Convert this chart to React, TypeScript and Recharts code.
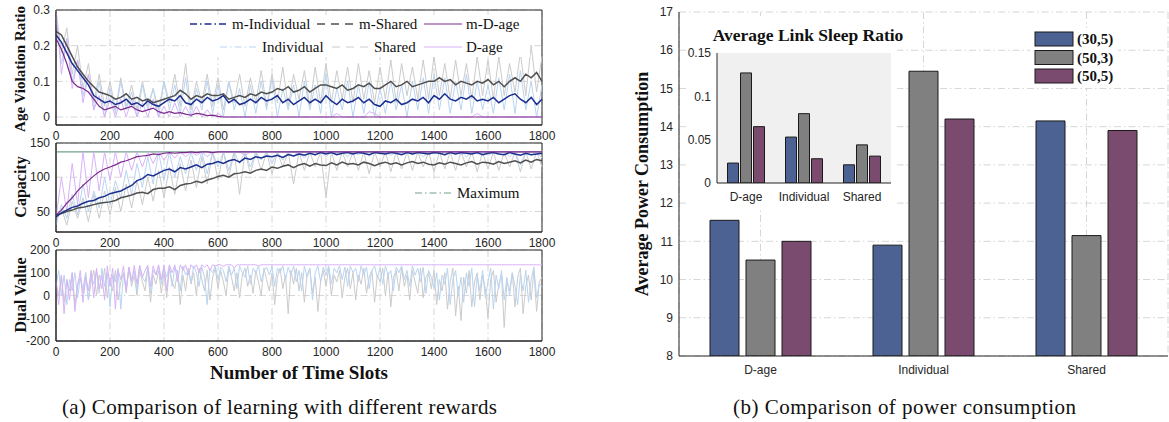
import {
  LineChart,
  Line,
  BarChart,
  Bar,
  XAxis,
  YAxis,
  CartesianGrid,
  ReferenceArea,
  ReferenceLine,
} from "recharts";

// time slots sampled every 20 slots (every 10 for the dual values)
const SLOTS = Array.from({ length: 91 }, (_, i) => i * 20);
const SLOTS10 = Array.from({ length: 181 }, (_, i) => i * 10);
const SLOT_TICKS = [0, 200, 400, 600, 800, 1000, 1200, 1400, 1600, 1800];

// ---- age violation ratio ----
const AVR_M_IND = [
  0.23, 0.21, 0.18, 0.15, 0.13, 0.11, 0.09, 0.06, 0.05, 0.04,
  0.045, 0.035, 0.04, 0.05, 0.035, 0.04, 0.03, 0.045, 0.035, 0.03,
  0.04, 0.05, 0.045, 0.06, 0.04, 0.035, 0.05, 0.04, 0.055, 0.045,
  0.05, 0.06, 0.04, 0.05, 0.035, 0.04, 0.05, 0.04, 0.055, 0.045,
  0.05, 0.06, 0.04, 0.05, 0.035, 0.045, 0.055, 0.04, 0.05, 0.04,
  0.06, 0.045, 0.035, 0.05, 0.04, 0.045, 0.055, 0.04, 0.05, 0.035,
  0.03, 0.045, 0.04, 0.05, 0.035, 0.04, 0.05, 0.045, 0.055, 0.04,
  0.06, 0.05, 0.065, 0.05, 0.045, 0.055, 0.05, 0.06, 0.045, 0.05,
  0.045, 0.055, 0.04, 0.05, 0.06, 0.065, 0.05, 0.04, 0.055, 0.035,
  0.05,
];
const AVR_M_SHR = [
  0.24, 0.23, 0.2, 0.17, 0.14, 0.12, 0.1, 0.085, 0.07, 0.065,
  0.06, 0.05, 0.055, 0.065, 0.05, 0.055, 0.045, 0.05, 0.04, 0.045,
  0.05, 0.055, 0.06, 0.075, 0.065, 0.05, 0.06, 0.055, 0.065, 0.06,
  0.06, 0.065, 0.05, 0.055, 0.06, 0.055, 0.065, 0.06, 0.07, 0.065,
  0.07, 0.08, 0.075, 0.085, 0.07, 0.075, 0.085, 0.07, 0.08, 0.09,
  0.09, 0.085, 0.08, 0.09, 0.075, 0.08, 0.09, 0.085, 0.095, 0.08,
  0.08, 0.09, 0.1, 0.085, 0.09, 0.1, 0.085, 0.09, 0.095, 0.1,
  0.1, 0.11, 0.1, 0.105, 0.09, 0.1, 0.095, 0.09, 0.1, 0.095,
  0.105, 0.09, 0.1, 0.085, 0.1, 0.11, 0.1, 0.12, 0.11, 0.125,
  0.1,
];
const AVR_M_DAGE = [
  0.22, 0.19, 0.15, 0.1, 0.085, 0.08, 0.07, 0.05, 0.03, 0.02,
  0.025, 0.03, 0.02, 0.025, 0.03, 0.02, 0.015, 0.02, 0.025, 0.015,
  0.01, 0.015, 0.01, 0.012, 0.008, 0.005, 0.01, 0.008, 0.004, 0.005,
  0.002, 0, 0, 0, 0, 0, 0, 0, 0, 0,
  0, 0, 0, 0, 0, 0, 0, 0, 0, 0,
  0, 0, 0, 0, 0, 0, 0, 0, 0, 0,
  0, 0, 0, 0, 0, 0, 0, 0, 0, 0,
  0, 0, 0, 0, 0, 0, 0, 0, 0, 0,
  0, 0, 0, 0, 0, 0, 0, 0, 0, 0,
  0,
];
const AVR_IND = [
  0.28, 0.15, 0.22, 0.1, 0.16, 0.06, 0.12, 0.02, 0.1, 0,
  0.08, 0.01, 0.1, 0.02, 0.07, 0, 0.09, 0.02, 0.08, 0,
  0.1, 0.02, 0.09, 0.01, 0.11, 0, 0.08, 0.02, 0.1, 0.01,
  0.09, 0, 0.1, 0.02, 0.08, 0, 0.09, 0.01, 0.1, 0.02,
  0.11, 0, 0.08, 0.02, 0.09, 0, 0.1, 0.02, 0.09, 0.01,
  0.12, 0, 0.08, 0.02, 0.1, 0, 0.09, 0.01, 0.1, 0,
  0.08, 0.01, 0.1, 0.02, 0.09, 0, 0.1, 0.02, 0.11, 0.01,
  0.12, 0.02, 0.11, 0.01, 0.1, 0.02, 0.12, 0.01, 0.1, 0.02,
  0.09, 0.01, 0.11, 0.02, 0.12, 0.01, 0.13, 0.02, 0.1, 0,
  0.09,
];
const AVR_SHR = [
  0.3, 0.18, 0.25, 0.12, 0.2, 0.08, 0.15, 0.04, 0.12, 0.03,
  0.1, 0.02, 0.11, 0.03, 0.09, 0.02, 0.1, 0.03, 0.08, 0.02,
  0.1, 0.04, 0.12, 0.03, 0.15, 0.02, 0.1, 0.04, 0.12, 0.03,
  0.11, 0.02, 0.1, 0.04, 0.12, 0.03, 0.11, 0.04, 0.13, 0.03,
  0.12, 0.04, 0.14, 0.03, 0.12, 0.05, 0.13, 0.03, 0.14, 0.04,
  0.15, 0.04, 0.13, 0.05, 0.14, 0.04, 0.15, 0.05, 0.13, 0.04,
  0.14, 0.05, 0.16, 0.04, 0.15, 0.06, 0.14, 0.05, 0.16, 0.05,
  0.17, 0.06, 0.15, 0.05, 0.16, 0.06, 0.15, 0.05, 0.17, 0.06,
  0.16, 0.05, 0.17, 0.06, 0.15, 0.07, 0.18, 0.06, 0.2, 0.07,
  0.17,
];
const AVR_DAGE = [
  0.3, 0.12, 0.22, 0.08, 0.16, 0.04, 0.12, 0.02, 0.06, 0,
  0.05, 0, 0.05, 0, 0.05, 0, 0.04, 0, 0.05, 0,
  0.03, 0, 0.04, 0, 0.03, 0, 0.03, 0, 0.02, 0,
  0.01, 0, 0, 0, 0, 0, 0, 0, 0, 0,
  0, 0, 0, 0, 0, 0, 0, 0, 0, 0,
  0, 0, 0.01, 0, 0, 0, 0, 0, 0.015, 0.01,
  0, 0, 0, 0, 0, 0, 0, 0, 0, 0,
  0, 0, 0, 0, 0, 0, 0, 0, 0.01, 0,
  0, 0, 0, 0, 0, 0, 0, 0, 0, 0,
  0,
];

// ---- capacity ----
const CAP_MAX = 137;
const CAP_M_DAGE = [
  45, 52, 62, 70, 80, 88, 95, 102, 108, 112,
  115, 118, 122, 124, 127, 130, 131, 132, 134, 133,
  135, 136, 135, 136, 136, 137, 136, 137, 137, 136,
  137, 137, 137, 137, 137, 137, 137, 137, 137, 137,
  137, 137, 137, 137, 137, 137, 137, 137, 137, 137,
  137, 137, 137, 137, 137, 137, 137, 137, 137, 137,
  137, 137, 137, 137, 137, 137, 137, 137, 137, 137,
  137, 137, 137, 137, 137, 137, 137, 137, 137, 137,
  137, 137, 137, 137, 137, 137, 137, 137, 137, 137,
  137,
];
const CAP_M_IND = [
  42, 48, 52, 56, 58, 62, 65, 66, 70, 72,
  76, 78, 80, 84, 88, 95, 98, 104, 102, 106,
  110, 112, 108, 114, 112, 115, 118, 114, 119, 120,
  123, 120, 124, 126, 122, 128, 126, 130, 128, 131,
  130, 132, 129, 133, 131, 134, 132, 135, 133, 136,
  134, 136, 133, 135, 136, 134, 136, 135, 133, 136,
  135, 134, 136, 135, 133, 136, 134, 136, 135, 134,
  136, 135, 133, 136, 134, 136, 135, 134, 136, 133,
  135, 136, 134, 133, 136, 134, 132, 135, 133, 134,
  135,
];
const CAP_M_SHR = [
  45, 47, 50, 52, 55, 56, 58, 60, 62, 63,
  64, 66, 70, 72, 74, 77, 78, 76, 82, 84,
  84, 86, 82, 88, 90, 91, 94, 92, 96, 98,
  101, 103, 100, 105, 106, 108, 106, 110, 112, 110,
  115, 113, 116, 118, 114, 118, 120, 116, 120, 118,
  117, 121, 118, 122, 119, 120, 118, 122, 120, 117,
  120, 122, 119, 121, 118, 121, 123, 120, 122, 119,
  118, 121, 119, 122, 120, 118, 121, 123, 119, 122,
  121, 119, 123, 120, 122, 124, 121, 125, 122, 126,
  124,
];
const CAP_IND = [
  30, 60, 40, 75, 45, 90, 50, 80, 55, 100,
  60, 95, 70, 110, 75, 120, 85, 130, 90, 137,
  95, 137, 100, 130, 105, 137, 110, 137, 105, 137,
  115, 137, 110, 137, 120, 137, 115, 137, 125, 137,
  120, 137, 125, 137, 130, 137, 128, 137, 132, 137,
  130, 137, 134, 137, 130, 137, 133, 137, 131, 137,
  134, 137, 132, 137, 135, 137, 133, 137, 130, 137,
  134, 137, 132, 137, 135, 137, 130, 137, 134, 137,
  132, 137, 135, 137, 130, 137, 118, 137, 132, 137,
  128,
];
const CAP_SHR = [
  35, 55, 30, 65, 40, 70, 35, 75, 40, 80,
  45, 85, 50, 90, 55, 95, 60, 100, 65, 110,
  70, 115, 75, 120, 80, 125, 85, 130, 90, 137,
  95, 137, 100, 137, 75, 137, 105, 137, 110, 137,
  105, 137, 115, 137, 90, 137, 110, 137, 115, 137,
  70, 137, 110, 137, 115, 137, 110, 137, 105, 137,
  115, 137, 108, 137, 112, 137, 110, 137, 115, 137,
  108, 137, 112, 137, 110, 137, 115, 137, 108, 137,
  112, 137, 110, 137, 115, 137, 108, 137, 112, 137,
  115,
];
const CAP_DAGE = [
  40, 100, 50, 120, 60, 137, 70, 137, 80, 137,
  95, 137, 100, 137, 110, 137, 115, 137, 120, 137,
  125, 137, 128, 137, 130, 137, 132, 137, 130, 137,
  137, 137, 137, 137, 137, 132, 137, 137, 137, 137,
  137, 137, 137, 137, 137, 133, 137, 137, 137, 137,
  137, 137, 137, 137, 137, 137, 137, 137, 137, 137,
  134, 137, 137, 137, 137, 137, 137, 137, 137, 137,
  137, 137, 137, 137, 137, 133, 137, 137, 137, 137,
  137, 137, 137, 137, 137, 137, 137, 137, 137, 137,
  137,
];

// ---- dual value (every 10 slots) ----
const DUAL_DAGE = [
  60, -40, 90, -80, 70, -20, 100, -70, 40, 110,
  -30, 80, 20, 110, -10, 120, 30, 90, -20, 130,
  40, 120, -60, 110, 70, 130, 20, 125, 60, 132,
  50, 133, 80, 110, 134, 40, 130, 90, 135, 70,
  134, 20, 135, 100, 135, 60, 135, 110, 135, 90,
  135, 120, 135, 100, 135, 125, 135, 110, 135, 130,
  135, 135, 128, 135, 135, 135, 120, 135, 135, 135,
  135, 135, 135, 135, 135, 130, 135, 135, 135, 135,
  135, 135, 135, 135, 135, 135, 135, 135, 135, 135,
  135, 135, 135, 135, 135, 135, 135, 135, 135, 135,
  135, 135, 135, 135, 135, 135, 135, 135, 135, 135,
  135, 135, 135, 135, 135, 135, 135, 135, 135, 135,
  135, 135, 135, 135, 135, 135, 135, 135, 135, 135,
  135, 135, 135, 135, 135, 135, 135, 135, 135, 135,
  135, 135, 135, 135, 135, 135, 135, 135, 135, 135,
  135, 135, 135, 135, 135, 135, 135, 135, 135, 135,
  135, 135, 135, 135, 135, 135, 135, 135, 135, 135,
  135, 135, 135, 135, 135, 135, 135, 135, 135, 135,
  135,
];
const DUAL_IND = [
  40, 110, 0, 90, -40, 70, 20, 100, -10, 80,
  30, 100, -20, 90, 50, 110, 10, 120, 40, 100,
  -50, 90, 60, 120, -60, 100, 30, 125, 70, 110,
  20, 130, 80, 60, 125, 10, 110, 90, 130, 50,
  120, 80, 130, 40, 125, 100, 20, 130, 90, 110,
  60, 130, 100, 40, 125, 80, -40, 120, 100, 130,
  70, 125, 110, 60, 130, 90, 120, 30, 130, 100,
  80, 130, 50, 120, 100, 130, 60, 110, 125, 90,
  130, 40, 120, 100, 130, 70, 125, 90, 130, 60,
  110, 20, 130, 80, 120, -20, 100, 130, 60, 125,
  90, 130, 50, 120, 100, 130, 70, 125, 40, 130,
  100, 120, 60, 130, 90, 125, 30, 110, 130, 80,
  120, 50, 130, 90, 110, 20, 125, 100, 130, 70,
  110, 40, 130, 90, 120, 60, 125, 10, 110, 80,
  30, 100, -20, 90, 50, 120, -40, 70, 110, 0,
  80, -30, 100, 40, 120, -50, 90, 20, 110, -10,
  60, 120, -60, 90, 30, 110, -20, 80, 0, 100,
  40, -40, 90, 20, 110, -30, 70, 125, -10, 50,
  40,
];
const DUAL_SHR = [
  60, 0, 90, -30, 70, 20, 100, -40, 50, 80,
  10, 100, -20, 60, 110, 0, 90, 30, 120, -10,
  80, 20, 110, -20, 60, 100, 10, 120, 40, 90,
  0, 110, 60, 20, 120, -30, 90, 50, 110, 10,
  100, -10, 120, 60, 30, 110, -40, 90, 20, 120,
  50, 100, 0, 120, 70, 20, 110, -20, 80, 120,
  30, 110, 60, 0, 120, 80, 20, 100, -10, 90,
  120, 40, 90, 10, 110, 60, 0, 120, 70, 20,
  100, -40, 80, 120, 30, 90, -80, 110, 50, 120,
  20, 100, -30, 90, 120, 10, 80, -70, 60, 110,
  40, 120, 0, 90, 60, 110, -10, 80, 120, 30,
  100, -20, 90, 50, 120, 10, 80, 110, -30, 90,
  60, 120, 0, 100, -50, 80, 110, 20, 120, 40,
  90, -20, 110, 60, 10, 120, -10, 80, 100, 30,
  110, -40, 70, 20, 100, -60, 60, 120, -90, 40,
  -110, 80, 10, 110, -50, 60, 100, -20, 90, 30,
  -100, 70, 110, -30, 50, 90, -140, 60, 20, 100,
  -50, 80, 120, -80, 40, 90, -20, 110, -70, 60,
  80,
];

// ---- power consumption (bar chart) ----
const SCHEMES = ["D-age", "Individual", "Shared"];
const CONFIGS = ["(30,5)", "(50,3)", "(50,5)"];
const POWER_30_5 = [11.55, 10.9, 14.15];
const POWER_50_3 = [10.51, 15.45, 11.15];
const POWER_50_5 = [11.0, 14.2, 13.9];
const SLEEP_30_5 = [0.023, 0.053, 0.021];
const SLEEP_50_3 = [0.127, 0.08, 0.044];
const SLEEP_50_5 = [0.065, 0.028, 0.031];

const C_M_IND = "#1b2f8f";
const C_M_SHR = "#4f4f4f";
const C_M_DAGE = "#7a2a8c";
const C_IND = "#b9d4f3";
const C_SHR = "#cbcbcb";
const C_DAGE = "#d9b2f8";
const C_MAX = "#74a088";
const BAR_COLORS = ["#4c6292", "#808080", "#7a4b6f"];

const AXIS = "#262626";
const GRID = "#d6d6d6";
const DASHDOT = "7 3 1.5 3";
const SANS = "'Liberation Sans', Arial, sans-serif";
const SERIF = "'Liberation Serif', 'Times New Roman', serif";
const TICK = { fill: AXIS, fontSize: 12, fontFamily: SANS };

const avrRows = SLOTS.map((t, i) => ({
  t,
  ind: AVR_IND[i],
  shr: AVR_SHR[i],
  dage: AVR_DAGE[i],
  mInd: AVR_M_IND[i],
  mShr: AVR_M_SHR[i],
  mDage: AVR_M_DAGE[i],
}));
const capRows = SLOTS.map((t, i) => ({
  t,
  ind: CAP_IND[i],
  shr: CAP_SHR[i],
  dage: CAP_DAGE[i],
  mInd: CAP_M_IND[i],
  mShr: CAP_M_SHR[i],
  mDage: CAP_M_DAGE[i],
}));
const dualRows = SLOTS10.map((t, i) => ({
  t,
  ind: DUAL_IND[i],
  shr: DUAL_SHR[i],
  dage: DUAL_DAGE[i],
}));
const powerRows = SCHEMES.map((name, i) => ({
  name,
  a: POWER_30_5[i],
  b: POWER_50_3[i],
  c: POWER_50_5[i],
}));
const sleepRows = SCHEMES.map((name, i) => ({
  name,
  a: SLEEP_30_5[i],
  b: SLEEP_50_3[i],
  c: SLEEP_50_5[i],
}));

function rawLines() {
  return [
    <Line key="shr" dataKey="shr" stroke={C_SHR} strokeWidth={1} dot={false} isAnimationActive={false} />,
    <Line key="ind" dataKey="ind" stroke={C_IND} strokeWidth={1} dot={false} isAnimationActive={false} />,
    <Line key="dage" dataKey="dage" stroke={C_DAGE} strokeWidth={1} dot={false} isAnimationActive={false} />,
  ];
}

function meanLines() {
  return [
    <Line key="mShr" dataKey="mShr" stroke={C_M_SHR} strokeWidth={1.5} dot={false} isAnimationActive={false} />,
    <Line key="mInd" dataKey="mInd" stroke={C_M_IND} strokeWidth={1.5} dot={false} isAnimationActive={false} />,
    <Line key="mDage" dataKey="mDage" stroke={C_M_DAGE} strokeWidth={1.2} dot={false} isAnimationActive={false} />,
  ];
}

function slotAxis() {
  return (
    <XAxis
      dataKey="t"
      type="number"
      domain={[0, 1800]}
      ticks={SLOT_TICKS}
      interval={0}
      tick={TICK}
      tickLine={false}
      axisLine={{ stroke: AXIS }}
      tickSize={3}
      tickMargin={3}
      height={20}
    />
  );
}

function LegendItem({ x, y, color, dash, width, label }: any) {
  return (
    <g>
      <line x1={x} y1={y} x2={x + 38} y2={y} stroke={color} strokeWidth={width} strokeDasharray={dash} />
      <text x={x + 42} y={y + 5} fontFamily={SERIF} fontSize={15} fill="#111">
        {label}
      </text>
    </g>
  );
}

export default function App() {
  return (
    <div style={{ position: "absolute", left: 0, top: 0, width: 1169, height: 422, background: "#fff", overflow: "hidden" }}>
      {/* panel 1: age violation ratio */}
      <div style={{ position: "absolute", left: 0, top: 0 }}>
        <LineChart width={560} height={145} data={avrRows} margin={{ top: 10, right: 18, left: 0, bottom: 0 }}>
          <CartesianGrid stroke={GRID} strokeDasharray={DASHDOT} />
          {slotAxis()}
          <YAxis
            type="number"
            domain={[-0.0224, 0.3]}
            ticks={[0, 0.1, 0.2, 0.3]}
            allowDataOverflow
            width={56}
            tick={TICK}
            tickLine={false}
            axisLine={{ stroke: AXIS }}
            tickSize={3}
            tickMargin={3}
          />
          {rawLines()}
          {meanLines()}
          <ReferenceArea x1={0} x2={1800} y1={-0.0224} y2={0.3} fill="none" stroke={AXIS} ifOverflow="visible" />
        </LineChart>
      </div>

      {/* panel 2: capacity */}
      <div style={{ position: "absolute", left: 0, top: 130 }}>
        <LineChart width={560} height={122} data={capRows} margin={{ top: 13, right: 18, left: 0, bottom: 0 }}>
          <CartesianGrid stroke={GRID} strokeDasharray={DASHDOT} />
          {slotAxis()}
          <YAxis
            type="number"
            domain={[20, 150]}
            ticks={[50, 100, 150]}
            allowDataOverflow
            width={56}
            tick={TICK}
            tickLine={false}
            axisLine={{ stroke: AXIS }}
            tickSize={3}
            tickMargin={3}
          />
          <ReferenceLine y={CAP_MAX} stroke={C_MAX} strokeWidth={1.2} />
          {rawLines()}
          {meanLines()}
          <ReferenceArea x1={0} x2={1800} y1={20} y2={150} fill="none" stroke={AXIS} ifOverflow="visible" />
        </LineChart>
      </div>

      {/* panel 3: dual value */}
      <div style={{ position: "absolute", left: 0, top: 240 }}>
        <LineChart width={560} height={121} data={dualRows} margin={{ top: 10, right: 18, left: 0, bottom: 0 }}>
          <CartesianGrid stroke={GRID} strokeDasharray={DASHDOT} />
          {slotAxis()}
          <YAxis
            type="number"
            domain={[-200, 200]}
            ticks={[-200, -100, 0, 100, 200]}
            allowDataOverflow
            width={56}
            tick={TICK}
            tickLine={false}
            axisLine={{ stroke: AXIS }}
            tickSize={3}
            tickMargin={3}
          />
          {rawLines()}
          <ReferenceArea x1={0} x2={1800} y1={-200} y2={200} fill="none" stroke={AXIS} ifOverflow="visible" />
        </LineChart>
      </div>

      {/* power consumption bars */}
      <div style={{ position: "absolute", left: 600, top: 0 }}>
        <BarChart
          width={569}
          height={380}
          data={powerRows}
          margin={{ top: 12, right: 1, left: 0, bottom: 0 }}
          barCategoryGap={31}
          barGap={7}
        >
          <CartesianGrid stroke={GRID} strokeDasharray={DASHDOT} />
          <XAxis
            dataKey="name"
            tick={TICK}
            tickLine={false}
            axisLine={{ stroke: AXIS }}
            tickSize={3}
            tickMargin={6}
            height={24}
          />
          <XAxis xAxisId="top" dataKey="name" orientation="top" height={0} tick={false} tickLine={false} axisLine={{ stroke: AXIS }} />
          <YAxis
            type="number"
            domain={[8, 17]}
            ticks={[8, 9, 10, 11, 12, 13, 14, 15, 16, 17]}
            allowDataOverflow
            width={79}
            tick={TICK}
            tickLine={false}
            axisLine={{ stroke: AXIS }}
            tickSize={3}
            tickMargin={3}
          />
          <YAxis yAxisId="right" orientation="right" type="number" domain={[8, 17]} width={0} tick={false} tickLine={false} axisLine={{ stroke: AXIS }} />
          <Bar dataKey="a" fill={BAR_COLORS[0]} stroke="#1a1a1a" strokeWidth={1} isAnimationActive={false} />
          <Bar dataKey="b" fill={BAR_COLORS[1]} stroke="#1a1a1a" strokeWidth={1} isAnimationActive={false} />
          <Bar dataKey="c" fill={BAR_COLORS[2]} stroke="#1a1a1a" strokeWidth={1} isAnimationActive={false} />
        </BarChart>
      </div>

      {/* inset: average link sleep ratio */}
      <div style={{ position: "absolute", left: 687, top: 16, background: "#fff" }}>
        <BarChart
          width={210}
          height={192}
          data={sleepRows}
          margin={{ top: 37, right: 6, left: 0, bottom: 0 }}
          barCategoryGap={10.5}
          barGap={2}
        >
          <CartesianGrid fill="#f0f0f0" horizontal={false} vertical={false} />
          <XAxis
            dataKey="name"
            tick={TICK}
            tickLine={false}
            axisLine={{ stroke: AXIS }}
            tickSize={3}
            tickMargin={6}
            height={25}
          />
          <XAxis xAxisId="top" dataKey="name" orientation="top" height={0} tick={false} tickLine={false} axisLine={{ stroke: AXIS }} />
          <YAxis
            type="number"
            domain={[0, 0.15]}
            ticks={[0, 0.05, 0.1, 0.15]}
            allowDataOverflow
            width={30}
            tick={TICK}
            tickLine={false}
            axisLine={{ stroke: AXIS }}
            tickSize={3}
            tickMargin={3}
          />
          <YAxis yAxisId="right" orientation="right" type="number" domain={[0, 0.15]} width={0} tick={false} tickLine={false} axisLine={{ stroke: AXIS }} />
          <Bar dataKey="a" fill={BAR_COLORS[0]} stroke="#1a1a1a" strokeWidth={1} isAnimationActive={false} />
          <Bar dataKey="b" fill={BAR_COLORS[1]} stroke="#1a1a1a" strokeWidth={1} isAnimationActive={false} />
          <Bar dataKey="c" fill={BAR_COLORS[2]} stroke="#1a1a1a" strokeWidth={1} isAnimationActive={false} />
        </BarChart>
      </div>

      {/* titles, legends and captions */}
      <svg width={1169} height={422} style={{ position: "absolute", left: 0, top: 0, pointerEvents: "none" }}>
        <g fontFamily={SERIF} fontWeight="bold" fill="#111" textAnchor="middle">
          <text transform="translate(20,69) rotate(-90)" fontSize={15} dominantBaseline="central">Age Violation Ratio</text>
          <text transform="translate(20,187) rotate(-90)" fontSize={16} dominantBaseline="central">Capacity</text>
          <text transform="translate(20,295) rotate(-90)" fontSize={16} dominantBaseline="central">Dual Value</text>
          <text x={299} y={379} fontSize={19}>Number of Time Slots</text>
          <text transform="translate(642,184) rotate(-90)" fontSize={18} dominantBaseline="central">Average Power Consumption</text>
          <text x={808} y={41} fontSize={17.5}>Average Link Sleep Ratio</text>
        </g>

        {/* learning legend */}
        <rect x={188} y={15} width={342} height={42} fill="#fff" />
        <LegendItem x={190} y={24} color={C_M_IND} dash={DASHDOT} width={1.5} label="m-Individual" />
        <LegendItem x={317} y={24} color={C_M_SHR} dash="8 6" width={1.5} label="m-Shared" />
        <LegendItem x={424} y={24} color={C_M_DAGE} width={1.2} label="m-D-age" />
        <LegendItem x={220} y={47} color={C_IND} dash={DASHDOT} width={1.2} label="Individual" />
        <LegendItem x={332} y={47} color={C_SHR} dash="8 6" width={1.2} label="Shared" />
        <LegendItem x={424} y={47} color={C_DAGE} width={1.2} label="D-age" />

        {/* capacity legend */}
        <rect x={410} y={182} width={118} height={22} fill="#fff" />
        <LegendItem x={415} y={193} color={C_MAX} dash={DASHDOT} width={1.2} label="Maximum" />

        {/* bar legend */}
        <rect x={1030} y={28} width={88} height={60} fill="#fff" />
        {CONFIGS.map((c, i) => (
          <g key={c}>
            <rect x={1035} y={32 + i * 18.5} width={38} height={14} fill={BAR_COLORS[i]} stroke="#1a1a1a" strokeWidth={1} />
            <text x={1077} y={44 + i * 18.5} fontFamily={SERIF} fontWeight="bold" fontSize={15} fill="#111">
              {c}
            </text>
          </g>
        ))}

        <g fontFamily={SERIF} fontSize={21} fill="#111" textAnchor="middle">
          <text x={279.5} y={414} textLength={435} lengthAdjust="spacing">(a) Comparison of learning with different rewards</text>
          <text x={904.5} y={414} textLength={343} lengthAdjust="spacing">(b) Comparison of power consumption</text>
        </g>
      </svg>
    </div>
  );
}
